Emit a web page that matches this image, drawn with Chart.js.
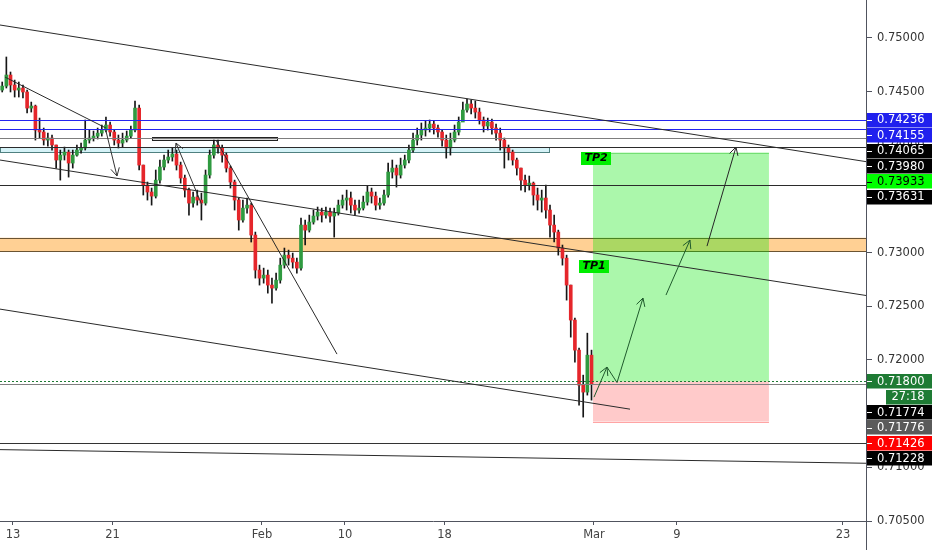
<!DOCTYPE html>
<html>
<head>
<meta charset="utf-8">
<script src="https://cdn.jsdelivr.net/npm/chart.js@4.4.1/dist/chart.umd.min.js"></script>
<style>
  html, body { margin: 0; padding: 0; background: #fff; }
  #wrap { width: 932px; height: 550px; }
</style>
</head>
<body>
<div id="wrap"><canvas id="chart" width="932" height="550"></canvas></div>
<script>
// x axis is in trading days, Jan 13 = day 0; one candle every quarter day
const FIRST_DAY = -0.65;
const BARS_PER_DAY = 4;

const xTickDays = [0, 6, 15, 20, 26, 35, 40, 50];
const xTickLabels = ['13', '21', 'Feb', '10', '18', 'Mar', '9', '23'];
const yTickValues = [0.705, 0.71, 0.715, 0.72, 0.725, 0.73, 0.735, 0.74, 0.745, 0.75];

const opens = [
  0.74515,0.74552,0.74655,0.74562,0.74515,0.74534,0.74497,0.74347,0.74366,0.74142,
  0.74124,0.74049,0.74068,0.74003,0.73863,0.73909,0.73937,0.73835,0.73909,0.73956,
  0.73975,0.74049,0.74068,0.74086,0.74114,0.74142,0.74189,0.74124,0.74049,0.74021,
  0.74049,0.74086,0.74142,0.74347,0.73816,0.73630,0.73565,0.73527,0.73676,0.73798,
  0.73863,0.73891,0.73919,0.73816,0.73695,0.73583,0.73462,0.73518,0.73490,0.73462,
  0.73723,0.73909,0.74003,0.73975,0.73909,0.73788,0.73658,0.73490,0.73304,0.73415,
  0.73443,0.73164,0.72838,0.72763,0.72791,0.72698,0.72670,0.72744,0.72884,0.72977,
  0.72949,0.72912,0.72856,0.73257,0.73210,0.73285,0.73341,0.73378,0.73350,0.73378,
  0.73341,0.73369,0.73443,0.73490,0.73509,0.73443,0.73397,0.73415,0.73471,0.73565,
  0.73527,0.73443,0.73462,0.73537,0.73751,0.73788,0.73723,0.73816,0.73863,0.73956,
  0.74049,0.74096,0.74142,0.74161,0.74198,0.74161,0.74124,0.74049,0.73975,0.74049,
  0.74124,0.74217,0.74329,0.74385,0.74347,0.74310,0.74236,0.74180,0.74217,0.74161,
  0.74114,0.74049,0.73975,0.73937,0.73863,0.73788,0.73676,0.73630,0.73648,0.73537,
  0.73490,0.73509,0.73397,0.73257,0.73192,0.73043,0.72949,0.72698,0.72372,0.72092,
  0.71766,0.71701,0.72045
];
const highs = [
  0.74590,0.74823,0.74683,0.74608,0.74590,0.74562,0.74515,0.74403,0.74375,0.74254,
  0.74161,0.74114,0.74096,0.74003,0.73956,0.73984,0.73956,0.73956,0.74003,0.74021,
  0.74236,0.74142,0.74133,0.74161,0.74189,0.74264,0.74217,0.74142,0.74096,0.74114,
  0.74133,0.74180,0.74413,0.74375,0.73816,0.73658,0.73602,0.73770,0.73863,0.73909,
  0.73956,0.73975,0.73956,0.73844,0.73723,0.73602,0.73565,0.73583,0.73555,0.73770,
  0.73956,0.74049,0.74049,0.74003,0.73928,0.73807,0.73676,0.73509,0.73490,0.73509,
  0.73462,0.73192,0.72884,0.72856,0.72838,0.72763,0.72810,0.72949,0.73043,0.73024,
  0.72996,0.72949,0.73322,0.73304,0.73350,0.73397,0.73425,0.73415,0.73425,0.73415,
  0.73415,0.73490,0.73537,0.73583,0.73565,0.73490,0.73490,0.73527,0.73620,0.73602,
  0.73565,0.73509,0.73583,0.73835,0.73863,0.73816,0.73881,0.73909,0.74003,0.74114,
  0.74161,0.74208,0.74226,0.74236,0.74226,0.74189,0.74142,0.74096,0.74114,0.74189,
  0.74264,0.74403,0.74431,0.74422,0.74413,0.74347,0.74264,0.74254,0.74245,0.74198,
  0.74161,0.74068,0.74003,0.73956,0.73881,0.73788,0.73723,0.73714,0.73658,0.73602,
  0.73583,0.73630,0.73443,0.73350,0.73210,0.73071,0.72977,0.72698,0.72390,0.72111,
  0.71859,0.72250,0.72092
];
const lows = [
  0.74497,0.74534,0.74497,0.74450,0.74450,0.74441,0.74301,0.74310,0.74049,0.74068,
  0.74003,0.73993,0.73956,0.73788,0.73676,0.73863,0.73704,0.73788,0.73900,0.73928,
  0.73956,0.74021,0.74040,0.74059,0.74086,0.74124,0.74086,0.74003,0.73975,0.73984,
  0.74031,0.74068,0.74124,0.73770,0.73537,0.73490,0.73443,0.73509,0.73648,0.73770,
  0.73835,0.73853,0.73770,0.73648,0.73518,0.73350,0.73425,0.73443,0.73304,0.73443,
  0.73695,0.73881,0.73928,0.73844,0.73751,0.73602,0.73397,0.73210,0.73285,0.73369,
  0.73099,0.72763,0.72698,0.72716,0.72623,0.72530,0.72651,0.72716,0.72856,0.72884,
  0.72856,0.72810,0.72838,0.73071,0.73192,0.73266,0.73304,0.73285,0.73322,0.73285,
  0.73145,0.73350,0.73415,0.73397,0.73369,0.73350,0.73369,0.73397,0.73443,0.73462,
  0.73397,0.73406,0.73443,0.73518,0.73695,0.73611,0.73695,0.73788,0.73835,0.73937,
  0.74003,0.74049,0.74086,0.74124,0.74105,0.74077,0.73993,0.73881,0.73909,0.74031,
  0.74096,0.74236,0.74310,0.74292,0.74254,0.74198,0.74124,0.74142,0.74105,0.74049,
  0.73956,0.73788,0.73863,0.73816,0.73723,0.73583,0.73565,0.73583,0.73443,0.73397,
  0.73378,0.73322,0.73145,0.73099,0.72977,0.72884,0.72558,0.72213,0.71980,0.71579,
  0.71468,0.71673,0.71626
];
const closes = [
  0.74552,0.74655,0.74562,0.74515,0.74534,0.74497,0.74347,0.74366,0.74142,0.74124,
  0.74049,0.74068,0.74003,0.73863,0.73909,0.73937,0.73835,0.73909,0.73956,0.73975,
  0.74049,0.74068,0.74086,0.74114,0.74142,0.74189,0.74124,0.74049,0.74021,0.74049,
  0.74086,0.74142,0.74347,0.73816,0.73630,0.73565,0.73527,0.73676,0.73798,0.73863,
  0.73891,0.73919,0.73816,0.73695,0.73583,0.73462,0.73518,0.73490,0.73462,0.73723,
  0.73909,0.74003,0.73975,0.73909,0.73788,0.73658,0.73490,0.73304,0.73415,0.73443,
  0.73164,0.72838,0.72763,0.72791,0.72698,0.72670,0.72744,0.72884,0.72977,0.72949,
  0.72912,0.72856,0.73257,0.73210,0.73285,0.73341,0.73378,0.73350,0.73378,0.73341,
  0.73369,0.73443,0.73490,0.73509,0.73443,0.73397,0.73415,0.73471,0.73565,0.73527,
  0.73443,0.73462,0.73537,0.73751,0.73788,0.73723,0.73816,0.73863,0.73956,0.74049,
  0.74096,0.74142,0.74161,0.74198,0.74161,0.74124,0.74049,0.73975,0.74049,0.74124,
  0.74217,0.74329,0.74385,0.74347,0.74310,0.74236,0.74180,0.74217,0.74161,0.74114,
  0.74049,0.73975,0.73937,0.73863,0.73788,0.73676,0.73630,0.73648,0.73537,0.73490,
  0.73509,0.73397,0.73257,0.73192,0.73043,0.72949,0.72698,0.72372,0.72092,0.71766,
  0.71701,0.72045,0.71774
];

// horizontal levels drawn across the plot
const levels = [
  { p: 0.74236, color: '#2424f0' },
  { p: 0.74155, color: '#2424f0' },
  { p: 0.74065, color: '#7d7d7d' },
  { p: 0.73980, color: '#2b2b2b' },
  { p: 0.73631, color: '#2b2b2b' },
  { p: 0.71800, color: '#1e7b34', dash: [2, 2] },
  { p: 0.71774, color: '#808080' },
  { p: 0.71228, color: '#333333' }
];

// trend lines: [day1, price1, day2, price2]
const trendLines = [
  [-0.783, 0.75121, 51.386, 0.73848],
  [-0.783, 0.73863, 51.386, 0.72601],
  [-0.783, 0.72474, 37.17, 0.71542],
  [-0.783, 0.71165, 51.386, 0.71038],
  [-0.482, 0.74636, 5.602, 0.74161],
  [12.229, 0.74049, 19.518, 0.72055]
];

// arrows (head at the last point)
const arrows = [
  { pts: [[5.602, 0.74133], [6.265, 0.73714]], color: '#333333' },
  { pts: [[11.386, 0.73443], [9.819, 0.74021]], color: '#333333' },
  { pts: [[35.0, 0.71654], [35.783, 0.71934]], color: '#1f5a2c' },
  { pts: [[35.783, 0.71934], [36.386, 0.71790], [37.952, 0.72577]], color: '#1f5a2c' },
  { pts: [[39.337, 0.72605], [40.783, 0.73117]], color: '#1f5a2c' },
  { pts: [[41.807, 0.73061], [43.554, 0.73984]], color: '#262626' }
];

const zoneBand = [0.73139, 0.73015];
const tealBox = { d1: -0.783, d2: 32.29, p1: 0.73980, p2: 0.73933 };
const thinBox = { d1: 8.37, d2: 15.90, p1: 0.74075, p2: 0.74047 };
const position = { d1: 34.94, d2: 45.54, target: 0.73933, entry: 0.71800, stop: 0.71426 };
const tpLabels = [
  { text: 'TP2', d: 35.12, p: 0.73881 },
  { text: 'TP1', d: 35.0, p: 0.72875 }
];

// price scale tags, in display order (they stack downward)
const priceTags = [
  { p: 0.74236, text: '0.74236', bg: '#2020ee', fg: '#ffffff' },
  { p: 0.74155, text: '0.74155', bg: '#2020ee', fg: '#ffffff' },
  { p: 0.74065, text: '0.74065', bg: '#000000', fg: '#ffffff' },
  { p: 0.73980, text: '0.73980', bg: '#000000', fg: '#ffffff' },
  { p: 0.73933, text: '0.73933', bg: '#00ff00', fg: '#000000' },
  { p: 0.73631, text: '0.73631', bg: '#000000', fg: '#ffffff' },
  { p: 0.71800, text: '0.71800', bg: '#1e7b34', fg: '#ffffff' },
  { p: 0.71774, text: '27:18', bg: '#1e7b34', fg: '#ffffff', timer: true },
  { p: 0.71774, text: '0.71774', bg: '#000000', fg: '#ffffff' },
  { p: 0.71776, text: '0.71776', bg: '#5a5a5a', fg: '#ffffff' },
  { p: 0.71426, text: '0.71426', bg: '#ff0000', fg: '#ffffff' },
  { p: 0.71228, text: '0.71228', bg: '#000000', fg: '#ffffff' }
];

const UP = '#2f9a40';
const DOWN = '#e5262b';
const FONT = '"DejaVu Sans", sans-serif';

const barDays = closes.map((_, i) => FIRST_DAY + i / BARS_PER_DAY);
const bodyData = barDays.map((d, i) => ({ x: d, y: [opens[i], closes[i]] }));
const wickData = barDays.map((d, i) => ({ x: d, y: [lows[i], highs[i]] }));
const bodyColors = closes.map((c, i) => (c >= opens[i] ? UP : DOWN));

function drawArrowHead(ctx, x1, y1, x2, y2) {
  const a = Math.atan2(y2 - y1, x2 - x1);
  const len = 9, spread = 0.5;
  ctx.beginPath();
  ctx.moveTo(x2 - len * Math.cos(a - spread), y2 - len * Math.sin(a - spread));
  ctx.lineTo(x2, y2);
  ctx.lineTo(x2 - len * Math.cos(a + spread), y2 - len * Math.sin(a + spread));
  ctx.stroke();
}

const overlay = {
  id: 'overlay',
  beforeDatasetsDraw(chart) {
    const { ctx, chartArea: area } = chart;
    const X = v => chart.scales.x.getPixelForValue(v);
    const Y = v => chart.scales.y.getPixelForValue(v);
    ctx.save();
    ctx.beginPath();
    ctx.rect(area.left, area.top, area.width, area.height);
    ctx.clip();

    // orange zone
    const zt = Y(zoneBand[0]), zb = Y(zoneBand[1]);
    ctx.fillStyle = 'rgba(255,170,60,0.55)';
    ctx.fillRect(area.left, zt, area.width, zb - zt);
    ctx.strokeStyle = '#6b5433';
    ctx.lineWidth = 1;
    ctx.beginPath();
    ctx.moveTo(area.left, Math.round(zt) + 0.5); ctx.lineTo(area.right, Math.round(zt) + 0.5);
    ctx.moveTo(area.left, Math.round(zb) + 0.5); ctx.lineTo(area.right, Math.round(zb) + 0.5);
    ctx.stroke();

    // long position tool
    const px1 = X(position.d1), px2 = X(position.d2);
    const yT = Y(position.target), yE = Y(position.entry), yS = Y(position.stop);
    ctx.fillStyle = 'rgba(0,230,0,0.33)';
    ctx.fillRect(px1, yT, px2 - px1, yE - yT);
    ctx.fillStyle = 'rgba(255,80,80,0.3)';
    ctx.fillRect(px1, yE, px2 - px1, yS - yE);
    ctx.strokeStyle = 'rgba(255,90,90,0.55)';
    ctx.beginPath();
    ctx.moveTo(px1, Math.round(yS) + 0.5); ctx.lineTo(px2, Math.round(yS) + 0.5);
    ctx.stroke();
    ctx.strokeStyle = 'rgba(60,200,60,0.5)';
    ctx.beginPath();
    ctx.moveTo(px1, Math.round(yT) + 0.5); ctx.lineTo(px2, Math.round(yT) + 0.5);
    ctx.stroke();

    // teal box and thin black box
    ctx.fillStyle = 'rgba(178,232,240,0.55)';
    ctx.strokeStyle = '#4f8080';
    let bx = X(tealBox.d1), by = Y(tealBox.p1);
    ctx.fillRect(bx, by, X(tealBox.d2) - bx, Y(tealBox.p2) - by);
    ctx.strokeRect(Math.round(bx) + 0.5, Math.round(by) + 0.5, Math.round(X(tealBox.d2) - bx), Math.round(Y(tealBox.p2) - by));
    bx = X(thinBox.d1); by = Y(thinBox.p1);
    ctx.fillStyle = 'rgba(190,190,190,0.5)';
    ctx.strokeStyle = '#222';
    ctx.fillRect(bx, by, X(thinBox.d2) - bx, Y(thinBox.p2) - by);
    ctx.strokeRect(Math.round(bx) + 0.5, Math.round(by) + 0.5, Math.round(X(thinBox.d2) - bx), Math.round(Y(thinBox.p2) - by));
    ctx.restore();
  },
  afterDatasetsDraw(chart) {
    const { ctx, chartArea: area } = chart;
    const X = v => chart.scales.x.getPixelForValue(v);
    const Y = v => chart.scales.y.getPixelForValue(v);
    ctx.save();
    ctx.beginPath();
    ctx.rect(area.left, area.top, area.width, area.height);
    ctx.clip();
    ctx.lineWidth = 1;

    levels.forEach(l => {
      const y = Math.round(Y(l.p)) + 0.5;
      ctx.strokeStyle = l.color;
      ctx.setLineDash(l.dash || []);
      ctx.beginPath();
      ctx.moveTo(area.left, y);
      ctx.lineTo(area.right, y);
      ctx.stroke();
    });
    ctx.setLineDash([]);

    ctx.strokeStyle = '#2a2a2a';
    trendLines.forEach(t => {
      ctx.beginPath();
      ctx.moveTo(X(t[0]), Y(t[1]));
      ctx.lineTo(X(t[2]), Y(t[3]));
      ctx.stroke();
    });

    arrows.forEach(a => {
      ctx.strokeStyle = a.color;
      const pts = a.pts.map(p => [X(p[0]), Y(p[1])]);
      ctx.beginPath();
      ctx.moveTo(pts[0][0], pts[0][1]);
      for (let i = 1; i < pts.length; i++) ctx.lineTo(pts[i][0], pts[i][1]);
      ctx.stroke();
      const n = pts.length;
      drawArrowHead(ctx, pts[n - 2][0], pts[n - 2][1], pts[n - 1][0], pts[n - 1][1]);
    });

    // TP labels
    ctx.font = 'italic bold 11px ' + FONT;
    ctx.textAlign = 'center';
    ctx.textBaseline = 'middle';
    tpLabels.forEach(t => {
      const cx = X(t.d), cy = Y(t.p);
      ctx.fillStyle = '#00ee00';
      ctx.fillRect(Math.round(cx - 15), Math.round(cy - 6.5), 30, 13);
      ctx.fillStyle = '#000';
      ctx.fillText(t.text, cx, cy + 0.5);
    });
    ctx.restore();
  },
  afterDraw(chart) {
    const { ctx, chartArea: area } = chart;
    const Y = v => chart.scales.y.getPixelForValue(v);
    ctx.save();
    // axis line continues through the date strip
    ctx.strokeStyle = '#50535e';
    ctx.lineWidth = 1;
    ctx.beginPath();
    ctx.moveTo(Math.round(area.right) + 0.5, area.bottom);
    ctx.lineTo(Math.round(area.right) + 0.5, chart.height);
    ctx.stroke();

    const h = 14.5, pitch = 15.4;
    let prev = -Infinity;
    ctx.font = '11.5px ' + FONT;
    ctx.textBaseline = 'middle';
    priceTags.forEach(t => {
      let cy = Math.max(Y(t.p), prev + pitch);
      prev = cy;
      const left = t.timer ? 886 : area.right + 1;
      ctx.fillStyle = t.bg;
      ctx.fillRect(left, Math.round(cy - h / 2), chart.width - left, h);
      ctx.fillStyle = t.fg;
      if (t.timer) {
        ctx.textAlign = 'center';
        ctx.fillText(t.text, 908, cy + 0.5);
      } else {
        ctx.strokeStyle = t.fg;
        ctx.beginPath();
        ctx.moveTo(area.right + 1, Math.round(cy) + 0.5);
        ctx.lineTo(area.right + 6, Math.round(cy) + 0.5);
        ctx.stroke();
        ctx.textAlign = 'left';
        ctx.fillText(t.text, area.right + 11, cy + 0.5);
      }
    });
    ctx.restore();
  }
};

new Chart(document.getElementById('chart').getContext('2d'), {
  type: 'bar',
  data: {
    datasets: [
      { data: bodyData, backgroundColor: bodyColors, barThickness: 3, grouped: false, minBarLength: 1 },
      { data: wickData, backgroundColor: '#161616', barThickness: 1, grouped: false }
    ]
  },
  options: {
    responsive: false,
    animation: false,
    layout: { padding: 0 },
    plugins: { legend: { display: false }, tooltip: { enabled: false } },
    scales: {
      x: {
        type: 'linear',
        min: -0.783,
        max: 51.386,
        offset: false,
        grid: { drawOnChartArea: false, drawTicks: true, tickLength: 4, color: '#50535e', offset: false },
        border: { color: '#50535e' },
        ticks: {
          autoSkip: false, maxRotation: 0, padding: 3, color: '#444',
          font: { family: FONT, size: 11.5 },
          callback: (v, i) => xTickLabels[i]
        },
        afterBuildTicks: s => { s.ticks = xTickDays.map(v => ({ value: v })); },
        afterFit: s => { s.height = 29; s.paddingLeft = 0; s.paddingRight = 0; }
      },
      y: {
        position: 'right',
        min: 0.705,
        max: 0.75354,
        grid: { drawOnChartArea: false, drawTicks: true, tickLength: 6, color: '#50535e' },
        border: { color: '#50535e' },
        ticks: {
          padding: 5, color: '#333',
          font: { family: FONT, size: 11.5 },
          callback: v => v.toFixed(5)
        },
        afterBuildTicks: s => { s.ticks = yTickValues.map(v => ({ value: v })); },
        afterFit: s => { s.width = 66; s.paddingTop = 0; s.paddingBottom = 0; }
      }
    }
  },
  plugins: [overlay]
});
</script>
</body>
</html>
